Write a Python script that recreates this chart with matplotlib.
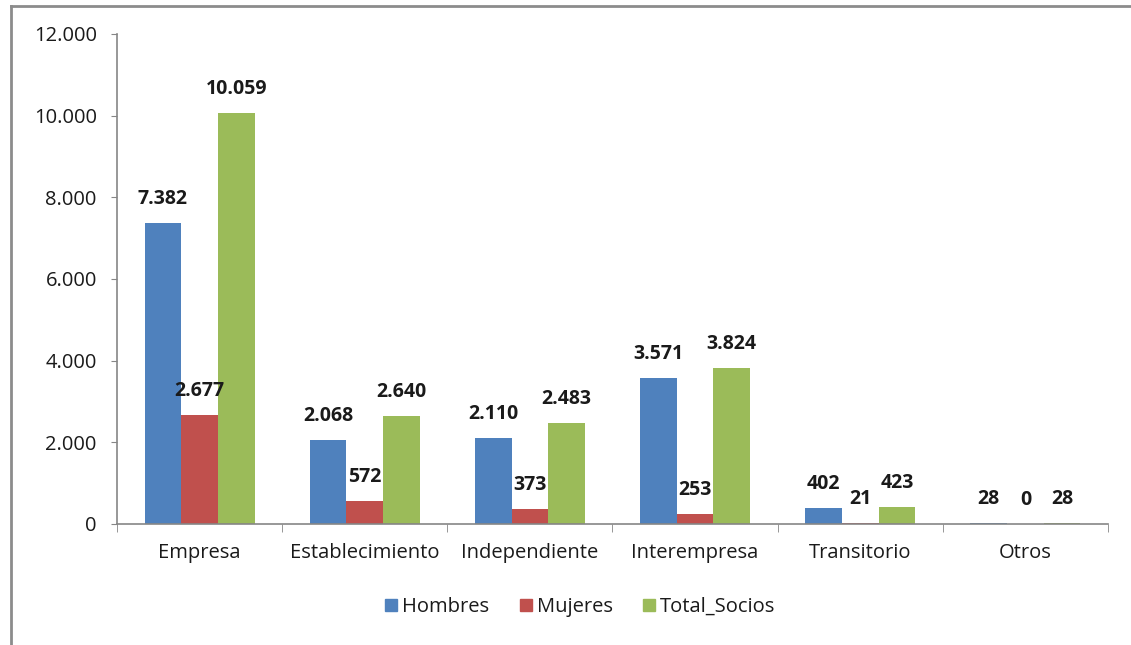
import numpy as np
import matplotlib.pyplot as plt
from matplotlib.lines import Line2D

categorias = ['Empresa', 'Establecimiento', 'Independiente', 'Interempresa', 'Transitorio', 'Otros']
hombres = [7382, 2068, 2110, 3571, 402, 28]
mujeres = [2677, 572, 373, 253, 21, 0]
total_socios = [10059, 2640, 2483, 3824, 423, 28]
series = ['Hombres', 'Mujeres', 'Total_Socios']
colores = ['#4F81BD', '#C0504D', '#9BBB59']
y_ticks = [0, 2000, 4000, 6000, 8000, 10000, 12000]


def miles(v):
    return f'{v:,}'.replace(',', '.')


plt.rcParams['font.family'] = ['Open Sans', 'DejaVu Sans']
fig = plt.figure(figsize=(11.31, 6.45), dpi=100)
ax = fig.add_axes([0.1034, 0.1876, 0.8763, 0.7597])

x = np.arange(len(categorias))
ancho = 0.222
datos = [hombres, mujeres, total_socios]
for i, (nombre, vals, col) in enumerate(zip(series, datos, colores)):
    pos = x + (i - 1) * ancho
    ax.bar(pos, vals, ancho, color=col, label=nombre, zorder=2)
    for px, v in zip(pos, vals):
        ax.annotate(miles(v), (px, v), xytext=(0, 10), textcoords='offset points',
                    ha='center', va='bottom', fontsize=14, fontweight='bold', color='#1a1a1a')

ax.set_xlim(-0.5, len(categorias) - 0.5)
ax.set_ylim(0, 12000)
ax.set_yticks(y_ticks)
ax.set_yticklabels([miles(t) for t in y_ticks])
ax.set_xticks(x)
ax.set_xticklabels(categorias)
ax.set_xticks(np.arange(len(categorias) + 1) - 0.5, minor=True)
ax.tick_params(axis='x', which='major', length=0, pad=14, labelsize=14.5, labelcolor='#1a1a1a')
ax.tick_params(axis='x', which='minor', length=6, color='#868686', direction='out')
ax.tick_params(axis='y', length=4.5, color='#868686', pad=10, labelsize=14.5, labelcolor='#1a1a1a')

for s in ['top', 'right']:
    ax.spines[s].set_visible(False)
for s in ['left', 'bottom']:
    ax.spines[s].set_color('#868686')
    ax.spines[s].set_linewidth(1.2)

handles = [Line2D([], [], marker='s', linestyle='none', markersize=8.5, color=c) for c in colores]
fig.legend(handles, series, loc='center', bbox_to_anchor=(0.513, 0.059), ncol=3, frameon=False,
           fontsize=14.5, handlelength=0.6, handletextpad=0.25, columnspacing=1.5, labelcolor='#1a1a1a')

# marco del grafico
fig.add_artist(Line2D([0.0093, 0.0093], [0.0, 0.9907], transform=fig.transFigure, color='#8c8c8c', lw=2))
fig.add_artist(Line2D([0.0093, 1.0], [0.9907, 0.9907], transform=fig.transFigure, color='#8c8c8c', lw=2))

fig.savefig('out.png', dpi=100, facecolor='white')
